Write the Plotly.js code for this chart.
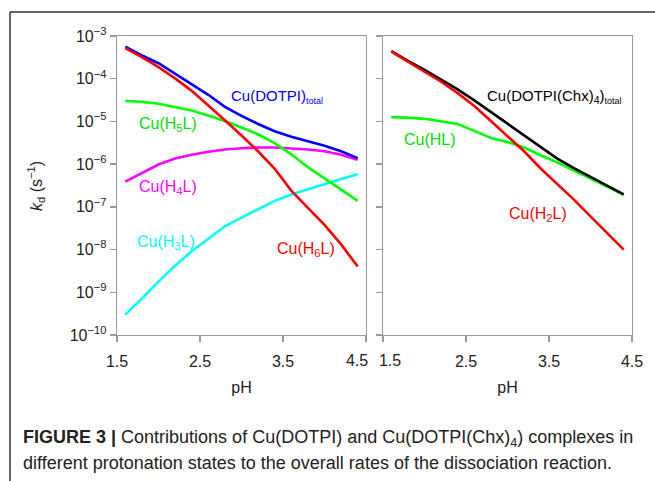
<!DOCTYPE html>
<html>
<head>
<meta charset="utf-8">
<script src="https://cdn.plot.ly/plotly-3.0.1.min.js"></script>
<style>html,body{margin:0;padding:0;background:#fff;}#chart{width:655px;height:481px;}</style>
</head>
<body>
<div id="chart"></div>
<script>
// pH values (both panels)
const pH = [1.6,1.8,2.0,2.2,2.4,2.6,2.8,3.0,3.2,3.4,3.6,3.8,4.0,4.2,4.4];

// Left panel: Cu(DOTPI), kd in s^-1
const dotpiTotal = [5.6e-4,3.5e-4,2.3e-4,1.3e-4,7.6e-5,4.2e-5,2.2e-5,1.35e-5,8.7e-6,5.9e-6,4.4e-6,3.5e-6,2.7e-6,2.0e-6,1.38e-6];
const cuH6L = [5.2e-4,3.2e-4,1.86e-4,1.02e-4,5.2e-5,2.4e-5,1.07e-5,4.7e-6,2.0e-6,7.8e-7,2.4e-7,9.5e-8,3.8e-8,1.32e-8,4.0e-9];
const cuH5L = [3.0e-5,2.9e-5,2.6e-5,2.2e-5,1.8e-5,1.38e-5,1.02e-5,7.2e-6,5.0e-6,3.1e-6,1.7e-6,8.5e-7,4.7e-7,2.6e-7,1.38e-7];
const cuH4L = [3.9e-7,6.3e-7,9.8e-7,1.35e-6,1.66e-6,1.95e-6,2.2e-6,2.35e-6,2.45e-6,2.45e-6,2.35e-6,2.2e-6,2.0e-6,1.66e-6,1.26e-6];
const cuH3L = [3.0e-10,7.1e-10,1.78e-9,4.2e-9,9.1e-9,1.8e-8,3.5e-8,5.6e-8,8.9e-8,1.38e-7,1.95e-7,2.6e-7,3.5e-7,4.5e-7,5.8e-7];

// Right panel: Cu(DOTPI(Chx)4)
const chxTotal = [4.4e-4,2.6e-4,1.62e-4,9.5e-5,5.6e-5,3.1e-5,1.66e-5,8.7e-6,4.7e-6,2.45e-6,1.35e-6,8.1e-7,5.0e-7,3.2e-7,1.95e-7];
const cuH2L = [4.3e-4,2.5e-4,1.48e-4,8.5e-5,4.6e-5,2.3e-5,1.02e-5,4.5e-6,2.0e-6,7.9e-7,3.5e-7,1.48e-7,6.0e-8,2.45e-8,1.0e-8];
const cuHL = [1.26e-5,1.23e-5,1.15e-5,1.02e-5,8.7e-6,6.0e-6,4.1e-6,3.3e-6,2.45e-6,1.62e-6,1.1e-6,7.1e-7,4.7e-7,3.0e-7,1.9e-7];

// Axis ticks
const xTicks = [1.5,2.5,3.5,4.5];
const xTickTextLeft = ['1.5','2.5','3.5',''];      // '4.5' drawn by shifted overlay axis
const xTickTextRight = ['','2.5','3.5','4.5'];     // '1.5' drawn by shifted overlay axis
const xLeftEndTick = [4.5], xLeftEndText = ['4.5'];
const xRightStartTick = [1.5], xRightStartText = ['1.5'];
const yTicks = [1e-10,1e-9,1e-8,1e-7,1e-6,1e-5,1e-4,1e-3];
const yTickText = ['10<sup>−10</sup>','10<sup>−9</sup>','10<sup>−8</sup>','10<sup>−7</sup>','10<sup>−6</sup>','10<sup>−5</sup>','10<sup>−4</sup>','10<sup>−3</sup>'];

const W = 655, H = 481;
const px = x => x / W;
const py = y => 1 - y / H;

const FONT = 'Liberation Sans, Arial, sans-serif';
const LW = 2.6;

function line(y, color, xa, ya) {
  return {x: pH, y: y, type: 'scatter', mode: 'lines', xaxis: xa, yaxis: ya,
          line: {color: color, width: LW}, showlegend: false, hoverinfo: 'skip'};
}

const traces = [
  line(cuH3L, '#00FFFF', 'x', 'y'),
  line(cuH4L, '#FF00FF', 'x', 'y'),
  line(cuH5L, '#00FF00', 'x', 'y'),
  line(dotpiTotal, '#0000FF', 'x', 'y'),
  line(cuH6L, '#FF0000', 'x', 'y'),
  line(cuHL, '#00FF00', 'x2', 'y2'),
  line(chxTotal, '#000000', 'x2', 'y2'),
  line(cuH2L, '#FF0000', 'x2', 'y2'),
  {x: [], y: [], type: 'scatter', mode: 'lines', xaxis: 'x3', yaxis: 'y', showlegend: false, hoverinfo: 'skip'},
  {x: [], y: [], type: 'scatter', mode: 'lines', xaxis: 'x4', yaxis: 'y2', showlegend: false, hoverinfo: 'skip'}
];

const axisCommon = {
  showline: true, linecolor: '#9a9a9a', linewidth: 1.3, mirror: true,
  ticks: 'outside', ticklen: 6, tickcolor: '#9a9a9a', tickwidth: 1.3,
  showgrid: false, zeroline: false,
  tickfont: {family: FONT, size: 16, color: '#222'}
};
const overlayCommon = {
  showline: false, ticks: 'outside', ticklen: 6, tickwidth: 1.3, tickcolor: 'rgba(0,0,0,0)',
  showgrid: false, zeroline: false, side: 'bottom',
  ticklabelstandoff: 5, range: [1.5, 4.5],
  tickfont: {family: FONT, size: 16, color: '#222'}
};

const yDom = [py(335), py(36)];
const titleFont = {family: FONT, size: 16, color: '#222'};

const layout = {
  width: W, height: H,
  margin: {l: 0, r: 0, t: 0, b: 0},
  paper_bgcolor: '#fff', plot_bgcolor: '#fff',
  font: {family: FONT},
  xaxis: Object.assign({}, axisCommon, {domain: [px(117), px(366)], range: [1.5, 4.5], tickvals: xTicks, ticktext: xTickTextLeft, anchor: 'y',
    ticklabelstandoff: 5, title: {text: 'pH', font: titleFont, standoff: 13}}),
  yaxis: Object.assign({}, axisCommon, {domain: yDom, type: 'log', range: [-10, -3], tickvals: yTicks, ticktext: yTickText, anchor: 'x'}),
  xaxis2: Object.assign({}, axisCommon, {domain: [px(383), px(632)], range: [1.5, 4.5], tickvals: xTicks, ticktext: xTickTextRight, anchor: 'y2',
    ticklabelstandoff: 5, title: {text: 'pH', font: titleFont, standoff: 13}}),
  yaxis2: Object.assign({}, axisCommon, {domain: yDom, type: 'log', range: [-10, -3], tickvals: yTicks, ticktext: yTickText, showticklabels: false, anchor: 'x2'}),
  xaxis3: Object.assign({}, overlayCommon, {overlaying: 'x', anchor: 'y', tickvals: xLeftEndTick, ticktext: xLeftEndText, ticklabelshift: -9}),
  xaxis4: Object.assign({}, overlayCommon, {overlaying: 'x2', anchor: 'y2', tickvals: xRightStartTick, ticktext: xRightStartText, ticklabelshift: 7}),
  shapes: [
    {type: 'line', xref: 'paper', yref: 'paper', x0: px(10), x1: 1, y0: py(12), y1: py(12), line: {color: '#333', width: 1.5}},
    {type: 'line', xref: 'paper', yref: 'paper', x0: px(10), x1: px(10), y0: py(12), y1: 0, line: {color: '#333', width: 1.5}}
  ],
  annotations: [
    {xref: 'paper', yref: 'paper', x: px(36), y: py(186), text: '<i>k</i><sub>d</sub> (s<sup>−1</sup>)', textangle: -90, showarrow: false,
     font: titleFont, xanchor: 'center', yanchor: 'middle'},
    {xref: 'paper', yref: 'paper', x: px(229), y: py(96), text: 'Cu(DOTPI)<sub><span style="font-size:9px">total</span></sub>', showarrow: false,
     font: {family: FONT, size: 15, color: '#0000FF'}, xanchor: 'left', yanchor: 'middle'},
    {xref: 'paper', yref: 'paper', x: px(137), y: py(124), text: 'Cu(H<sub>5</sub>L)', showarrow: false,
     font: {family: FONT, size: 16, color: '#00E000'}, xanchor: 'left', yanchor: 'middle'},
    {xref: 'paper', yref: 'paper', x: px(137), y: py(187), text: 'Cu(H<sub>4</sub>L)', showarrow: false,
     font: {family: FONT, size: 16, color: '#FF00FF'}, xanchor: 'left', yanchor: 'middle'},
    {xref: 'paper', yref: 'paper', x: px(135), y: py(242), text: 'Cu(H<sub>3</sub>L)', showarrow: false,
     font: {family: FONT, size: 16, color: '#00FFFF'}, xanchor: 'left', yanchor: 'middle'},
    {xref: 'paper', yref: 'paper', x: px(275), y: py(249), text: 'Cu(H<sub>6</sub>L)', showarrow: false,
     font: {family: FONT, size: 16, color: '#FF0000'}, xanchor: 'left', yanchor: 'middle'},
    {xref: 'paper', yref: 'paper', x: px(485), y: py(96), text: 'Cu(DOTPI(Chx)<sub>4</sub>)<sub><span style="font-size:9px">total</span></sub>', showarrow: false,
     font: {family: FONT, size: 15, color: '#000000'}, xanchor: 'left', yanchor: 'middle'},
    {xref: 'paper', yref: 'paper', x: px(402), y: py(139), text: 'Cu(HL)', showarrow: false,
     font: {family: FONT, size: 16, color: '#00E000'}, xanchor: 'left', yanchor: 'middle'},
    {xref: 'paper', yref: 'paper', x: px(507), y: py(214), text: 'Cu(H<sub>2</sub>L)', showarrow: false,
     font: {family: FONT, size: 16, color: '#FF0000'}, xanchor: 'left', yanchor: 'middle'},
    {xref: 'paper', yref: 'paper', x: px(21), y: py(438), text: '<b>FIGURE 3 |</b> Contributions of Cu(DOTPI) and Cu(DOTPI(Chx)<sub>4</sub>) complexes in', showarrow: false,
     font: {family: FONT, size: 18, color: '#222'}, xanchor: 'left', yanchor: 'middle', align: 'left'},
    {xref: 'paper', yref: 'paper', x: px(21), y: py(463), text: 'different protonation states to the overall rates of the dissociation reaction.', showarrow: false,
     font: {family: FONT, size: 18, color: '#222'}, xanchor: 'left', yanchor: 'middle', align: 'left'}
  ]
};

Plotly.newPlot('chart', traces, layout, {staticPlot: true, displayModeBar: false});
</script>
</body>
</html>
